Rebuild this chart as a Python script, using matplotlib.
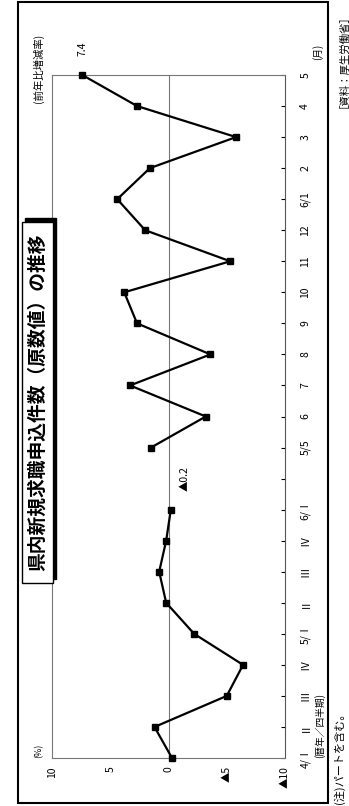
import matplotlib.pyplot as plt
from matplotlib.patches import Rectangle

plt.rcParams['font.family'] = ['Noto Sans CJK JP', 'DejaVu Sans']

# quarterly series (4/I .. 6/I) and monthly series (5/5 .. 6/5)
cat_labels = ['4/Ⅰ', 'Ⅱ', 'Ⅲ', 'Ⅳ', '5/Ⅰ', 'Ⅱ', 'Ⅲ', 'Ⅳ', '6/Ⅰ', '',
              '5/5', '6', '7', '8', '9', '10', '11', '12', '6/1', '2', '3', '4', '5']
quarter_vals = [-0.3, 1.2, -5.0, -6.4, -2.2, 0.2, 0.8, 0.2, -0.2]
month_vals = [1.5, -3.2, 3.3, -3.6, 2.7, 3.8, -5.3, 2.0, 4.4, 1.6, -5.8, 2.7, 7.4]
val_ticks = [10, 5, 0, -5, -10]
val_tick_labels = ['10', '5', '0', '▲5', '▲10']

W, H = 349, 806
fig = plt.figure(figsize=(W / 100, H / 100), dpi=100)

def fx(px):
    return px / W

def fy(py):
    return 1 - py / H

# whole chart is turned 90 degrees: time runs upward, values run right-to-left
ax = fig.add_axes([fx(52), fy(758), fx(285) - fx(52), fy(75) - fy(758)])
qpos = list(range(len(quarter_vals)))
mpos = list(range(10, 10 + len(month_vals)))
ax.plot(quarter_vals, qpos, color='black', lw=1.6, marker='s', ms=4.5, clip_on=False, zorder=3)
ax.plot(month_vals, mpos, color='black', lw=1.6, marker='s', ms=4.5, clip_on=False, zorder=3)
ax.axvline(0, color='#777777', lw=0.8)

ax.set_xlim(10, -10)
ax.set_ylim(0, len(cat_labels) - 1)
ax.set_xticks(val_ticks)
ax.set_xticklabels(val_tick_labels, rotation=90, fontsize=7.5)
ax.tick_params(axis='x', length=0, pad=6)
ax.yaxis.tick_right()
ax.set_yticks(range(len(cat_labels)))
ax.set_yticklabels(cat_labels, rotation=90, fontsize=7.5, va='center')
ax.tick_params(axis='y', length=3, direction='in', pad=11)
for s in ['top', 'left', 'bottom']:
    ax.spines[s].set_color('#777777')
    ax.spines[s].set_linewidth(0.8)
ax.spines['right'].set_color('#555555')

# annotations
ax.text(7.4, 22.6, '7.4', rotation=90, fontsize=7.5, ha='center', va='bottom')
ax.text(-1.4, 9.0, '▲0.2', rotation=90, fontsize=7.5, ha='center', va='center')

fig.text(fx(39), fy(751), '(%)', rotation=90, fontsize=6.5, ha='center', va='center')
fig.text(fx(38), fy(68), '(前年比増減率)', rotation=90, fontsize=7.5, ha='center', va='center')
fig.text(fx(318), fy(52), '(月)', rotation=90, fontsize=7, ha='center', va='center')
fig.text(fx(320), fy(725), '(暦年／四半期)', rotation=90, fontsize=7, ha='center', va='center')
fig.text(fx(338), fy(4), '［資料：厚生労働省］', rotation=90, fontsize=7.5, ha='center', va='top')
fig.text(fx(339), fy(804), '(注)パートを含む。', rotation=90, fontsize=8, ha='center', va='bottom')

# title box with shadow
fig.patches.append(Rectangle((fx(25), fy(583 - 4)), fx(53) - fx(22), fy(222) - fy(583),
                             transform=fig.transFigure, facecolor='black', edgecolor='black'))
fig.patches.append(Rectangle((fx(22), fy(583)), fx(53) - fx(22), fy(222) - fy(583),
                             transform=fig.transFigure, facecolor='white', edgecolor='black', lw=1))
fig.text(fx(37.5), fy(402), '県内新規求職申込件数（原数値）の推移', rotation=90,
         fontsize=13.5, fontweight='bold', ha='center', va='center')

# outer frame
fig.patches.append(Rectangle((fx(18), fy(803)), fx(328) - fx(18), fy(2) - fy(803),
                             transform=fig.transFigure, facecolor='none', edgecolor='black', lw=1.5))

fig.savefig('out.png', dpi=100)
